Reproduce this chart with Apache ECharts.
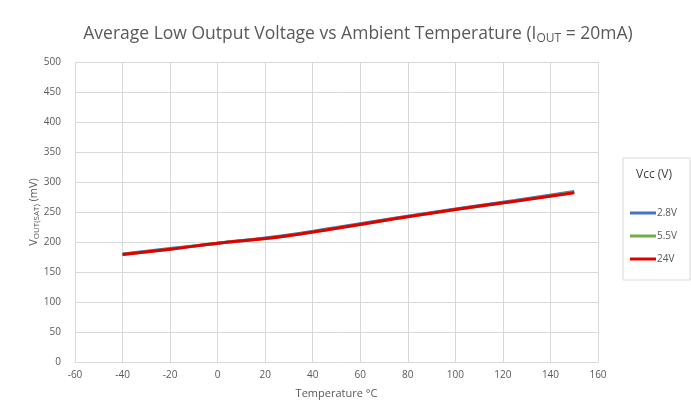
<!DOCTYPE html>
<html>
<head>
<meta charset="utf-8">
<script src="https://cdn.jsdelivr.net/npm/echarts@6/dist/echarts.min.js"></script>
<style>
  html, body { margin: 0; padding: 0; background: #fff; }
  #chart { width: 691px; height: 417px; }
</style>
</head>
<body>
<div id="chart"></div>
<script>
// temperature in °C, output voltage in mV
const temps = [-40, -20, 0, 25, 50, 75, 100, 125, 150];
const v28 = [180, 189, 198, 209, 224, 240, 255, 269, 284];
const v55 = [179, 188, 198, 208, 223, 239, 254, 268, 283];
const v24 = [179, 188, 198, 208, 223, 239, 254, 268, 282];
const seriesNames = ["2.8V", "5.5V", "24V"];
const seriesColors = ["#4472c4", "#70ad47", "#e00000"];

const font = "Open Sans";
const grey = "#595959";

function pairs(vals) {
  return temps.map((t, i) => [t, vals[i]]);
}

const chart = echarts.init(document.getElementById("chart"));

chart.setOption({
  animation: false,
  textStyle: { fontFamily: font },
  title: {
    text: "Average Low Output Voltage vs Ambient Temperature (I{sub|OUT} = 20mA)",
    left: 353,
    textAlign: "center",
    top: 19,
    textStyle: {
      color: grey,
      fontSize: 17.5,
      fontWeight: "normal",
      rich: {
        sub: { fontSize: 12, color: grey, padding: [9, 0, 0, 0] },
      },
    },
  },
  grid: { left: 75, right: 93, top: 62, bottom: 55 },
  xAxis: {
    type: "value",
    min: -60,
    max: 160,
    interval: 20,
    name: "Temperature °C",
    nameLocation: "middle",
    nameGap: 26,
    nameTextStyle: { color: grey, fontSize: 11 },
    axisLine: { lineStyle: { color: "#d9d9d9" } },
    axisTick: { show: false },
    axisLabel: { color: grey, fontSize: 10 },
    splitLine: { lineStyle: { color: "#d9d9d9" } },
  },
  yAxis: {
    type: "value",
    min: 0,
    max: 500,
    interval: 50,
    name: "V{sub|OUT(SAT)} (mV)",
    nameLocation: "middle",
    nameGap: 34,
    nameMoveOverlap: false,
    nameTextStyle: {
      color: grey,
      fontSize: 11,
      rich: { sub: { fontSize: 8, color: grey, padding: [6, 0, 0, 0] } },
    },
    axisLine: { show: false },
    axisTick: { show: false },
    axisLabel: { color: grey, fontSize: 10, margin: 14 },
    splitLine: { lineStyle: { color: "#d9d9d9" } },
  },
  legend: {
    orient: "vertical",
    left: 625,
    top: 203,
    itemWidth: 26,
    itemHeight: 3,
    itemGap: 13,
    icon: "rect",
    data: seriesNames,
    textStyle: { color: grey, fontSize: 10, padding: [0, 0, 0, -4] },
  },
  graphic: [
    {
      type: "rect",
      shape: { x: 623, y: 158, width: 67, height: 122 },
      style: { fill: "#fff", stroke: "#d9d9d9", lineWidth: 1 },
      z: -1,
    },
    {
      type: "text",
      x: 636,
      y: 169,
      style: { text: "Vcc (V)", fill: "#404040", fontSize: 12, fontFamily: font },
    },
  ],
  series: seriesNames.map((name, i) => ({
    name: name,
    type: "line",
    data: pairs([v28, v55, v24][i]),
    smooth: true,
    showSymbol: false,
    lineStyle: { width: 3, color: seriesColors[i] },
    itemStyle: { color: seriesColors[i] },
  })),
});
</script>
</body>
</html>
